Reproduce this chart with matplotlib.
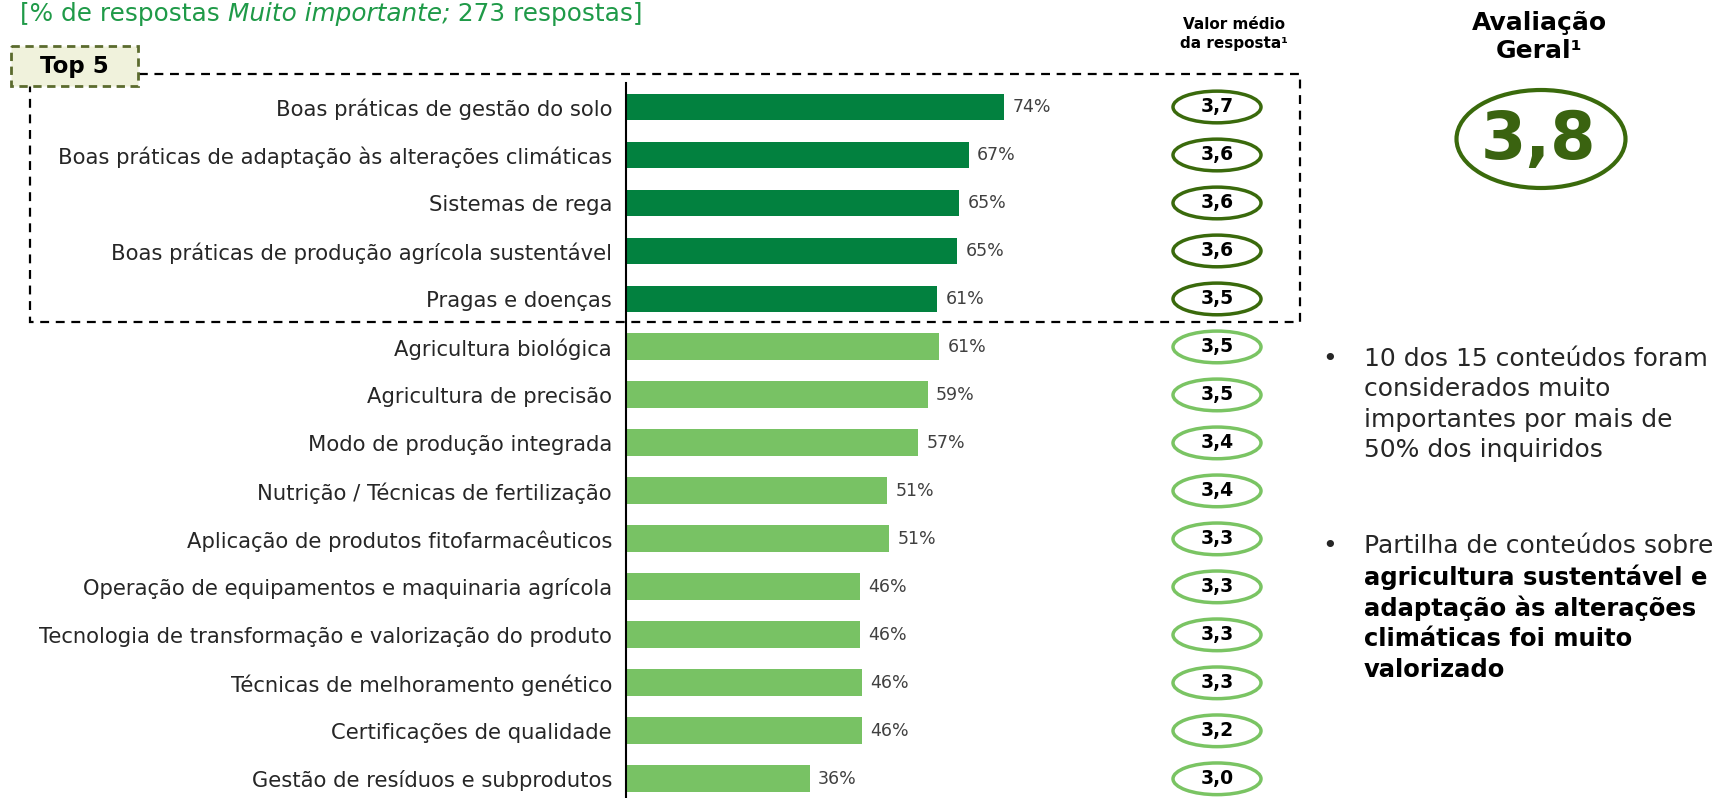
import matplotlib
matplotlib.use("Agg")
import matplotlib.pyplot as plt
from matplotlib.patches import Ellipse, Rectangle
import numpy as np

# ---- data ----
categories = [
    "Boas práticas de gestão do solo",
    "Boas práticas de adaptação às alterações climáticas",
    "Sistemas de rega",
    "Boas práticas de produção agrícola sustentável",
    "Pragas e doenças",
    "Agricultura biológica",
    "Agricultura de precisão",
    "Modo de produção integrada",
    "Nutrição / Técnicas de fertilização",
    "Aplicação de produtos fitofarmacêuticos",
    "Operação de equipamentos e maquinaria agrícola",
    "Tecnologia de transformação e valorização do produto",
    "Técnicas de melhoramento genético",
    "Certificações de qualidade",
    "Gestão de resíduos e subprodutos",
]
pct_values = [74.0, 67.0, 65.2, 64.8, 60.8, 61.2, 59.0, 57.1, 51.1, 51.4,
              45.8, 45.8, 46.2, 46.2, 35.9]
mean_scores = [3.7, 3.6, 3.6, 3.6, 3.5, 3.5, 3.5, 3.4, 3.4, 3.3, 3.3, 3.3, 3.3, 3.2, 3.0]
overall_score = 3.8
n_top = 5
n_responses = 273

bullet1_lines = ["10 dos 15 conteúdos foram", "considerados muito",
                 "importantes por mais de", "50% dos inquiridos"]
bullet2_first = "Partilha de conteúdos sobre"
bullet2_bold = ["agricultura sustentável e", "adaptação às alterações",
                "climáticas foi muito", "valorizado"]

# ---- style ----
DARK = "#02813F"
LIGHT = "#78C264"
OVAL_DARK = "#3A6A0C"
OVAL_LIGHT = "#7AC463"
TITLE_GREEN = "#1F9A48"
TEXT = "#262626"

W, H = 1730, 798
plt.rcParams["font.family"] = ["DejaVu Sans"]

fig = plt.figure(figsize=(W / 100, H / 100), dpi=100)

# overlay axes in pixel coordinates for the decorations
deco = fig.add_axes([0, 0, 1, 1])
deco.set_xlim(0, W)
deco.set_ylim(H, 0)
deco.axis("off")

# bar axes
px_per_pct = 5.114
x0 = 626
top = 83
ax = fig.add_axes([x0 / W, 0, (W - x0) / W, (H - top) / H])
ax.patch.set_visible(False)
ax.set_xlim(0, (W - x0) / px_per_pct)
ax.set_ylim(len(categories) - 0.6, -0.5)

y = np.arange(len(categories))
colors = [DARK if i < n_top else LIGHT for i in y]
ax.barh(y, pct_values, height=0.56, color=colors)
for i, v in enumerate(pct_values):
    ax.annotate(f"{v:.0f}%", (v, i), xytext=(6, 0), textcoords="offset points",
                va="center", ha="left", fontsize=12.5, color="#404040")

ax.set_yticks(y)
ax.set_yticklabels(categories)
ax.tick_params(axis="y", length=0, pad=10, labelsize=15.2, labelcolor=TEXT)
ax.set_xticks([])
for side in ["top", "right", "bottom"]:
    ax.spines[side].set_visible(False)
ax.spines["left"].set_linewidth(1.5)

# mean score ovals
oval_x = (1217 - x0) / px_per_pct
for i, m in enumerate(mean_scores):
    ec = OVAL_DARK if i < n_top else OVAL_LIGHT
    ax.add_patch(Ellipse((oval_x, i), 88 / px_per_pct, 0.66, fill=False, ec=ec,
                         lw=2.5, clip_on=False))
    ax.text(oval_x, i, f"{m:.1f}".replace(".", ","), ha="center", va="center",
            fontsize=13.5, fontweight="bold", color="black")

# top 5 dashed frame
deco.add_patch(Rectangle((30, 74), 1270, 248, fill=False, ec="black", lw=1.6,
                         ls=(0, (4, 3))))
deco.add_patch(Rectangle((11, 46), 127, 40, fc="#F0F2DC", ec="#5B6B2E", lw=2,
                         ls=(0, (3, 2)), zorder=3))
deco.text(74, 66, "Top 5", ha="center", va="center", fontsize=16.5,
          fontweight="bold", color="black", zorder=4)

# title
fig.canvas.draw()
r = fig.canvas.get_renderer()
xpos = 20
for txt, style in [("[% de respostas ", "normal"), ("Muito importante;", "italic"),
                   (f" {n_responses} respostas]", "normal")]:
    t = deco.text(xpos, 21, txt, ha="left", va="baseline", fontsize=17.8,
                  style=style, color=TITLE_GREEN)
    bb = t.get_window_extent(renderer=r)
    xpos += bb.width

# headers
deco.text(1234, 34, "Valor médio\nda resposta¹", ha="center", va="center",
          fontsize=11, fontweight="bold", color="black", linespacing=1.4)
deco.text(1539, 37, "Avaliação\nGeral¹", ha="center", va="center",
          fontsize=18, fontweight="bold", color="black", linespacing=1.25)

deco.add_patch(Ellipse((1541, 139), 169, 98, fill=False, ec=OVAL_DARK, lw=3))
deco.text(1538, 141, f"{overall_score:.1f}".replace(".", ","), ha="center",
          va="center", fontsize=47, fontweight="bold", color="#3A6310")

# bullets
for k, line in enumerate(bullet1_lines):
    yy = 359 + k * 30.5
    if k == 0:
        deco.text(1330, yy, "•", ha="center", va="center", fontsize=18, color=TEXT)
    deco.text(1364, yy, line, ha="left", va="center", fontsize=18, color=TEXT)

deco.text(1330, 546, "•", ha="center", va="center", fontsize=18, color=TEXT)
deco.text(1364, 546, bullet2_first, ha="left", va="center", fontsize=18, color=TEXT)
for k, line in enumerate(bullet2_bold):
    deco.text(1364, 577 + k * 31, line, ha="left", va="center", fontsize=17.5,
              fontweight="bold", color="black")

fig.savefig("out.png", dpi=100)
